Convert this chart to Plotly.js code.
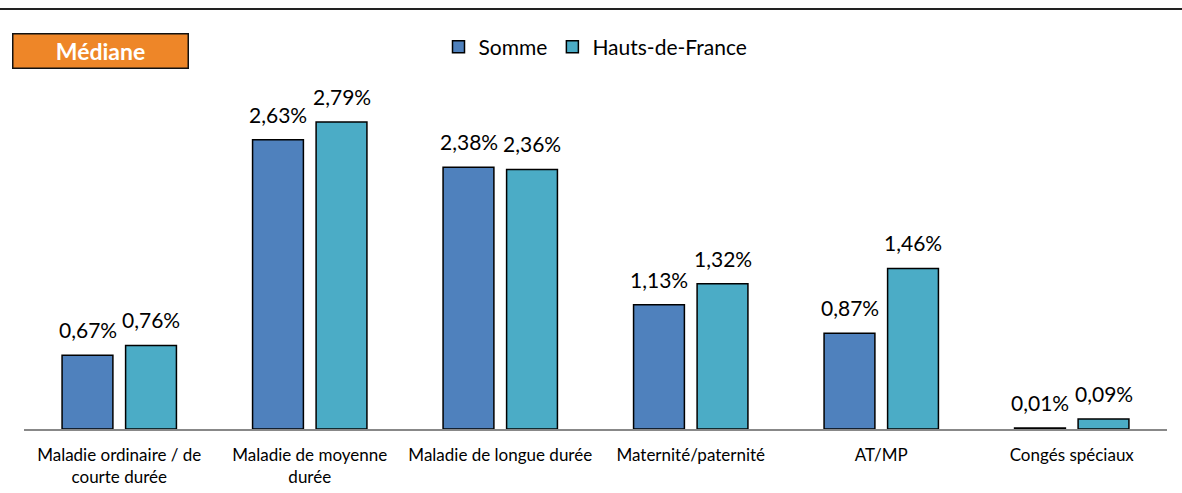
<!DOCTYPE html>
<html>
<head>
<meta charset="utf-8">
<script src="https://cdn.plot.ly/plotly-3.0.1.min.js"></script>
<style>
  body { margin: 0; background: #fff; }
  #graph { width: 1182px; height: 493px; }
</style>
</head>
<body>
<div id="graph"></div>
<script>
var categories = ['Maladie ordinaire / de<br>courte durée', 'Maladie de moyenne<br>durée',
    'Maladie de longue durée', 'Maternité/paternité', 'AT/MP', 'Congés spéciaux'];
var somme = [0.67, 2.63, 2.38, 1.13, 0.87, 0.01];
var hautsDeFrance = [0.76, 2.79, 2.36, 1.32, 1.46, 0.09];

function pct(v) {
    return v.toFixed(2).replace('.', ',') + '%';
}

var font = 'Lato, "Open Sans", sans-serif';

var traceSomme = {
    type: 'bar',
    name: 'Somme',
    x: categories,
    y: somme,
    marker: {color: '#4F81BD', line: {color: '#000', width: 1.5}},
    hoverinfo: 'none'
};

var traceHdf = {
    type: 'bar',
    name: 'Hauts-de-France',
    x: categories,
    y: hautsDeFrance,
    marker: {color: '#4BACC6', line: {color: '#000', width: 1.5}},
    hoverinfo: 'none'
};

// value labels above bars, shifted left/right onto each bar of the group
var labels = [];
function addLabels(values, shift) {
    for (var i = 0; i < values.length; i++) {
        labels.push({
            x: categories[i],
            y: values[i],
            xref: 'x', yref: 'y',
            text: pct(values[i]),
            showarrow: false,
            xanchor: 'center', yanchor: 'bottom',
            xshift: shift, yshift: 11,
            font: {size: 21, color: '#000', family: font}
        });
    }
}
addLabels(somme, -31.75);
addLabels(hautsDeFrance, 31.75);

labels.push({
    xref: 'paper', yref: 'paper',
    x: 0.0665, y: 1.144,
    xanchor: 'center', yanchor: 'middle',
    text: '<b>Médiane</b>',
    showarrow: false,
    font: {size: 23, color: '#fff', family: font},
    bgcolor: '#EE8628',
    bordercolor: '#111',
    borderwidth: 1.5,
    width: 172,
    height: 31
});

var layout = {
    width: 1182,
    height: 493,
    margin: {l: 24, r: 15, t: 99, b: 64},
    paper_bgcolor: '#fff',
    plot_bgcolor: '#fff',
    font: {family: font, color: '#000'},
    barmode: 'group',
    bargap: 0.333,
    bargroupgap: 0.2,
    showlegend: true,
    legend: {
        orientation: 'h',
        x: 0.5, xanchor: 'center',
        y: 1.157, yanchor: 'middle',
        font: {size: 21, family: font},
        itemwidth: 30
    },
    xaxis: {
        showline: true,
        linecolor: '#888',
        linewidth: 1.5,
        ticks: '',
        ticklabelstandoff: 10,
        tickfont: {size: 17, family: font},
        showgrid: false,
        fixedrange: true
    },
    yaxis: {
        range: [0, 3],
        visible: false,
        showgrid: false,
        zeroline: false,
        fixedrange: true
    },
    shapes: [{
        type: 'line',
        xref: 'paper', yref: 'paper',
        x0: -0.03, x1: 1.03,
        y0: 1.2727, y1: 1.2727,
        line: {color: '#222', width: 2}
    }],
    annotations: labels
};

Plotly.newPlot(document.getElementById('graph'), [traceSomme, traceHdf], layout, {displayModeBar: false, staticPlot: true});
</script>
</body>
</html>
